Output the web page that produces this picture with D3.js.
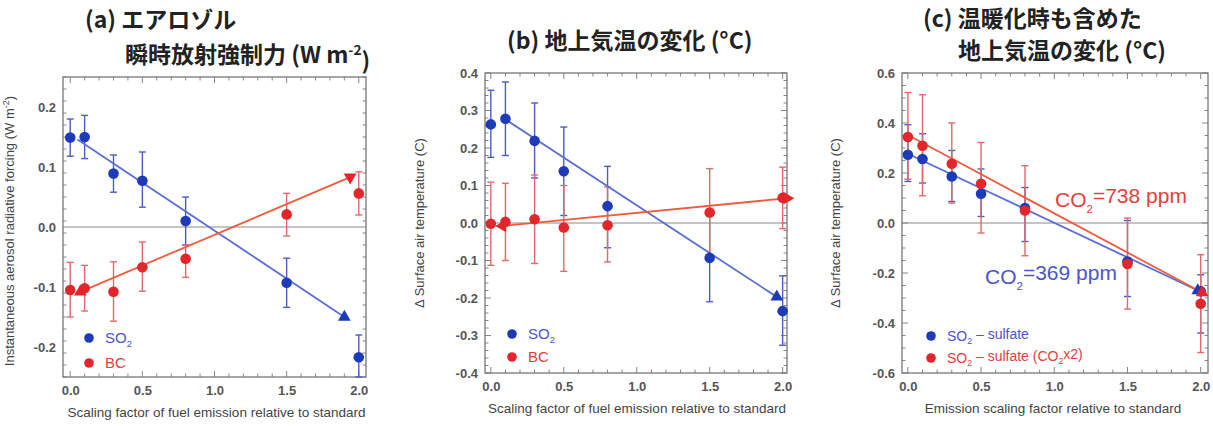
<!DOCTYPE html>
<html>
<head>
<meta charset="utf-8">
<script src="https://cdn.jsdelivr.net/npm/d3@7"></script>
<style>
  html, body { margin: 0; padding: 0; background: #fff; }
  svg { display: block; }
</style>
</head>
<body>
<svg id="chart" width="1213" height="426"></svg>
<script>
// Emission scaling factors shared by all three panels
const scaling = [0, 0.1, 0.3, 0.5, 0.8, 1.5, 2.0];

// (a) Instantaneous aerosol radiative forcing (W m-2)
const aSO2   = [0.149, 0.150, 0.089, 0.077, 0.010, -0.093, -0.217];
const aSO2Lo = [0.118, 0.114, 0.058, 0.033, -0.030, -0.134, -0.250];
const aSO2Hi = [0.180, 0.186, 0.120, 0.125, 0.050, -0.052, -0.180];
const aBC    = [-0.105, -0.102, -0.108, -0.067, -0.053, 0.021, 0.056];
const aBCLo  = [-0.150, -0.140, -0.157, -0.107, -0.084, -0.015, 0.020];
const aBCHi  = [-0.059, -0.064, -0.058, -0.025, -0.030, 0.056, 0.092];
const aFitSO2 = [[0.05, 0.146], [1.90, -0.150]];
const aFitBC  = [[0.07, -0.108], [1.94, 0.083]];

// (b) Surface air temperature change (°C)
const bSO2   = [0.263, 0.278, 0.219, 0.138, 0.045, -0.093, -0.235];
const bSO2Lo = [0.175, 0.180, 0.120, 0.020, -0.066, -0.210, -0.326];
const bSO2Hi = [0.354, 0.376, 0.320, 0.256, 0.151, 0.024, -0.141];
const bBC    = [-0.002, 0.003, 0.010, -0.012, -0.006, 0.028, 0.067];
const bBCLo  = [-0.113, -0.100, -0.108, -0.129, -0.104, -0.090, -0.015];
const bBCHi  = [0.109, 0.106, 0.128, 0.100, 0.096, 0.145, 0.149];
const bFitSO2 = [[0.10, 0.276], [1.96, -0.197]];
const bFitBC  = [[0.08, -0.008], [2.03, 0.066]];

// (c) Surface air temperature change including warming (°C)
const cSO2   = [0.273, 0.256, 0.186, 0.117, 0.060, -0.154, -0.273];
const cSO2Lo = [0.166, 0.160, 0.086, 0.026, -0.074, -0.294, -0.440];
const cSO2Hi = [0.393, 0.357, 0.290, 0.216, 0.142, 0.010, -0.207];
const cCO2   = [0.344, 0.309, 0.237, 0.157, 0.050, -0.164, -0.323];
const cCO2Lo = [0.175, 0.109, 0.080, -0.040, -0.131, -0.344, -0.518];
const cCO2Hi = [0.522, 0.513, 0.400, 0.322, 0.229, 0.020, -0.127];
const cFitSO2 = [[0.00, 0.277], [1.98, -0.270]];
const cFitCO2 = [[0.00, 0.352], [2.01, -0.278]];

// Tick values
const xTicks  = [0, 0.5, 1.0, 1.5, 2.0];
const aYTicks = [-0.2, -0.1, 0, 0.1, 0.2];
const bYTicks = [-0.4, -0.3, -0.2, -0.1, 0, 0.1, 0.2, 0.3, 0.4];
const cYTicks = [-0.6, -0.4, -0.2, 0, 0.2, 0.4, 0.6];

const BLUE_DOT = "#1d3bb8", BLUE_LINE = "#5b6ed2", BLUE_BAR = "#4d5cc4", BLUE_TEXT = "#4b55c8";
const RED_DOT = "#e3262b", RED_LINE = "#ee5b3e", RED_BAR = "#e06a6a", RED_TEXT = "#e0413d";
const LATIN = "'Liberation Sans', Arial, Helvetica, sans-serif";
const CJK = "'Noto Sans CJK JP', 'Noto Sans', sans-serif";

const svg = d3.select("#chart");

function panel(cfg) {
  const x = d3.scaleLinear().domain(cfg.xDomain).range([cfg.left, cfg.right]);
  const y = d3.scaleLinear().domain(cfg.yDomain).range([cfg.bottom, cfg.top]);
  const g = svg.append("g");

  // minor ticks on all four sides, pointing inward
  const xMinor = d3.range(0, 2.0001, 0.1);
  const yMinor = d3.range(cfg.yDomain[0], cfg.yDomain[1] + 1e-9, cfg.yMinorStep);
  const tickG = g.append("g").attr("stroke", "#888").attr("stroke-width", 1);
  xMinor.forEach(v => {
    const major = xTicks.some(t => Math.abs(t - v) < 1e-6);
    const len = major ? 6 : 3.5;
    tickG.append("line").attr("x1", x(v)).attr("x2", x(v)).attr("y1", cfg.bottom).attr("y2", cfg.bottom - len);
    tickG.append("line").attr("x1", x(v)).attr("x2", x(v)).attr("y1", cfg.top).attr("y2", cfg.top + len);
  });
  yMinor.forEach(v => {
    const major = cfg.yTicks.some(t => Math.abs(t - v) < 1e-6);
    const len = major ? 6 : 3.5;
    tickG.append("line").attr("x1", cfg.left).attr("x2", cfg.left + len).attr("y1", y(v)).attr("y2", y(v));
    tickG.append("line").attr("x1", cfg.right).attr("x2", cfg.right - len).attr("y1", y(v)).attr("y2", y(v));
  });

  // zero line
  g.append("line").attr("x1", cfg.left).attr("x2", cfg.right)
    .attr("y1", y(0)).attr("y2", y(0)).attr("stroke", "#8a8a8a").attr("stroke-width", 1.1);

  // axes (labels only; the frame is drawn separately)
  const xAxis = d3.axisBottom(x).tickValues(xTicks).tickSize(0).tickPadding(0).tickFormat(d => d.toFixed(1));
  const xa = g.append("g").attr("transform", `translate(0,${cfg.bottom + 13})`).call(xAxis);
  xa.select(".domain").remove();
  xa.selectAll("text").attr("font-family", LATIN).attr("font-size", 13).attr("font-weight", "bold")
    .attr("fill", "#555").attr("dy", "0.35em");

  const yAxis = d3.axisLeft(y).tickValues(cfg.yTicks).tickSize(0).tickPadding(7).tickFormat(d => d.toFixed(1));
  const ya = g.append("g").attr("transform", `translate(${cfg.left},0)`).call(yAxis);
  ya.select(".domain").remove();
  ya.selectAll("text").attr("font-family", LATIN).attr("font-size", 13).attr("font-weight", "bold").attr("fill", "#555");

  // frame
  g.append("rect").attr("x", cfg.left).attr("y", cfg.top)
    .attr("width", cfg.right - cfg.left).attr("height", cfg.bottom - cfg.top)
    .attr("fill", "none").attr("stroke", "#777").attr("stroke-width", 1.3);

  // axis titles
  g.append("text").attr("x", (cfg.left + cfg.right) / 2 + cfg.xTitleShift).attr("y", cfg.bottom + 40)
    .attr("text-anchor", "middle").attr("font-family", LATIN).attr("font-size", cfg.xTitleSize)
    .attr("fill", "#444").text(cfg.xTitle);
  const yt = g.append("text")
    .attr("transform", `translate(${cfg.yTitleX},${(cfg.top + cfg.bottom) / 2 + cfg.yTitleShift}) rotate(-90)`)
    .attr("text-anchor", "middle").attr("font-family", LATIN).attr("font-size", cfg.yTitleSize)
    .attr("fill", "#444");
  cfg.yTitle(yt);

  // error bars
  function errorBars(lo, hi, color) {
    const eg = g.append("g").attr("stroke", color).attr("stroke-width", 1.4).attr("fill", "none");
    scaling.forEach((s, i) => {
      const top = Math.min(hi[i], cfg.yDomain[1]);
      const bot = Math.max(lo[i], cfg.yDomain[0]);
      eg.append("line").attr("x1", x(s)).attr("x2", x(s)).attr("y1", y(bot)).attr("y2", y(top));
      eg.append("line").attr("x1", x(s) - 3.5).attr("x2", x(s) + 3.5).attr("y1", y(hi[i])).attr("y2", y(hi[i]))
        .attr("display", hi[i] > cfg.yDomain[1] ? "none" : null);
      eg.append("line").attr("x1", x(s) - 3.5).attr("x2", x(s) + 3.5).attr("y1", y(lo[i])).attr("y2", y(lo[i]))
        .attr("display", lo[i] < cfg.yDomain[0] ? "none" : null);
    });
  }
  cfg.series.forEach(s => errorBars(s.lo, s.hi, s.bar));

  // fitted lines
  const line = d3.line().x(d => x(d[0])).y(d => y(d[1]));
  cfg.series.forEach(s => {
    g.append("path").datum(s.fit).attr("d", line).attr("fill", "none")
      .attr("stroke", s.line).attr("stroke-width", 1.8);
  });

  // points
  cfg.series.forEach(s => {
    g.append("g").selectAll("circle").data(s.values).join("circle")
      .attr("cx", (d, i) => x(scaling[i])).attr("cy", d => y(d)).attr("r", 5.3)
      .attr("fill", s.dot);
  });

  // triangle markers at the ends of the fitted lines
  const tri = d3.symbol().type(d3.symbolTriangle).size(70);
  cfg.series.forEach(s => {
    (s.ends || []).forEach(e => {
      const p = s.fit[e.at];
      g.append("path").attr("d", tri())
        .attr("transform", `translate(${x(p[0])},${y(p[1])}) rotate(${e.rot})`)
        .attr("fill", s.dot);
    });
  });

  // legend
  cfg.legend.forEach((l, i) => {
    const ly = cfg.legendY + i * cfg.legendGap;
    g.append("circle").attr("cx", cfg.legendX).attr("cy", ly).attr("r", 4.8).attr("fill", l.dot);
    const t = g.append("text").attr("x", cfg.legendX + 16).attr("y", ly).attr("dy", "0.36em")
      .attr("font-family", LATIN).attr("font-size", cfg.legendSize).attr("fill", l.color);
    l.label(t);
  });

  return { x, y, g };
}

function so2(t, rest) {
  t.append("tspan").text("SO");
  t.append("tspan").attr("font-size", "0.62em").attr("dy", "0.35em").text("2");
  if (rest) rest(t);
}

// Panel (a)
panel({
  left: 63, right: 366, top: 77, bottom: 377,
  xDomain: [-0.05, 2.05], yDomain: [-0.25, 0.25], yTicks: aYTicks, yMinorStep: 0.02,
  xTitle: "Scaling factor of fuel emission relative to standard", xTitleShift: 2, xTitleSize: 13.5,
  yTitleX: 14, yTitleSize: 13, yTitleShift: 4,
  yTitle: t => {
    t.append("tspan").text("Instantaneous aerosol radiative forcing (W m");
    t.append("tspan").attr("font-size", "0.7em").attr("dy", "-0.5em").text("-2");
    t.append("tspan").attr("dy", "0.35em").text(")");
  },
  series: [
    { values: aSO2, lo: aSO2Lo, hi: aSO2Hi, fit: aFitSO2, dot: BLUE_DOT, line: BLUE_LINE, bar: BLUE_BAR,
      ends: [{ at: 1, rot: 0 }] },
    { values: aBC, lo: aBCLo, hi: aBCHi, fit: aFitBC, dot: RED_DOT, line: RED_LINE, bar: RED_BAR,
      ends: [{ at: 0, rot: 0 }, { at: 1, rot: 180 }] }
  ],
  legendX: 89, legendY: 338, legendGap: 25, legendSize: 15,
  legend: [
    { dot: BLUE_DOT, color: BLUE_TEXT, label: t => so2(t) },
    { dot: RED_DOT, color: RED_TEXT, label: t => t.text("BC") }
  ]
});

// Panel (b)
panel({
  left: 485, right: 787, top: 73, bottom: 373,
  xDomain: [-0.04, 2.03], yDomain: [-0.4, 0.4], yTicks: bYTicks, yMinorStep: 0.02,
  xTitle: "Scaling factor of fuel emission relative to standard", xTitleShift: 1, xTitleSize: 13.5,
  yTitleX: 424, yTitleSize: 13, yTitleShift: 0,
  yTitle: t => t.text("\u0394 Surface air temperature (C)"),
  series: [
    { values: bSO2, lo: bSO2Lo, hi: bSO2Hi, fit: bFitSO2, dot: BLUE_DOT, line: BLUE_LINE, bar: BLUE_BAR,
      ends: [{ at: 1, rot: 0 }] },
    { values: bBC, lo: bBCLo, hi: bBCHi, fit: bFitBC, dot: RED_DOT, line: RED_LINE, bar: RED_BAR,
      ends: [{ at: 0, rot: -90 }, { at: 1, rot: 90 }] }
  ],
  legendX: 512, legendY: 334, legendGap: 23, legendSize: 15,
  legend: [
    { dot: BLUE_DOT, color: BLUE_TEXT, label: t => so2(t) },
    { dot: RED_DOT, color: RED_TEXT, label: t => t.text("BC") }
  ]
});

// Panel (c)
panel({
  left: 902, right: 1208, top: 73, bottom: 373,
  xDomain: [-0.04, 2.05], yDomain: [-0.6, 0.6], yTicks: cYTicks, yMinorStep: 0.05,
  xTitle: "Emission scaling factor relative to standard", xTitleShift: -2, xTitleSize: 13.5,
  yTitleX: 840, yTitleSize: 13, yTitleShift: 0,
  yTitle: t => t.text("\u0394 Surface air temperature (C)"),
  series: [
    { values: cSO2, lo: cSO2Lo, hi: cSO2Hi, fit: cFitSO2, dot: BLUE_DOT, line: BLUE_LINE, bar: BLUE_BAR,
      ends: [{ at: 1, rot: 0 }] },
    { values: cCO2, lo: cCO2Lo, hi: cCO2Hi, fit: cFitCO2, dot: RED_DOT, line: RED_LINE, bar: RED_BAR,
      ends: [{ at: 1, rot: 0 }] }
  ],
  legendX: 931, legendY: 336, legendGap: 22, legendSize: 14,
  legend: [
    { dot: BLUE_DOT, color: BLUE_TEXT, label: t => so2(t, tt => tt.append("tspan").attr("dy", "-0.35em").text(" \u2013 sulfate")) },
    { dot: RED_DOT, color: RED_TEXT, label: t => so2(t, tt => {
        tt.append("tspan").attr("dy", "-0.35em").text(" \u2013 sulfate (CO");
        tt.append("tspan").attr("font-size", "0.62em").attr("dy", "0.35em").text("2");
        tt.append("tspan").attr("dy", "-0.35em").text("x2)");
      }) }
  ]
});

// CO2 concentration annotations in panel (c)
function co2Label(text, color, xPos, yPos) {
  const t = svg.append("text").attr("x", xPos).attr("y", yPos).attr("dy", "0.35em")
    .attr("font-family", LATIN).attr("font-size", 21).attr("fill", color);
  t.append("tspan").text("CO");
  t.append("tspan").attr("font-size", "0.55em").attr("dy", "0.5em").text("2");
  t.append("tspan").attr("dy", "-0.5em").text(text);
}
co2Label("=738 ppm", RED_TEXT, 1055, 200);
co2Label("=369 ppm", BLUE_TEXT, 985, 277);

// Panel titles
function title(lines) {
  lines.forEach(l => {
    const t = svg.append("text").attr("x", l.x).attr("y", l.y)
      .attr("font-family", CJK).attr("font-size", 23).attr("font-weight", "bold").attr("fill", "#222");
    l.parts(t);
  });
}
title([
  { x: 85, y: 28, parts: t => t.text("(a) エアロゾル") },
  { x: 125, y: 63, parts: t => {
      t.append("tspan").text("瞬時放射強制力 (W m");
      t.append("tspan").attr("font-size", "0.6em").attr("dy", "-0.6em").text("-2");
      t.append("tspan").attr("dy", "0.6em").text(")");
    } }
]);
title([{ x: 507, y: 49, parts: t => t.text("(b) 地上気温の変化 (°C)") }]);
title([
  { x: 923, y: 27, parts: t => t.text("(c) 温暖化時も含めた") },
  { x: 958, y: 59, parts: t => t.text("地上気温の変化 (°C)") }
]);
</script>
</body>
</html>
